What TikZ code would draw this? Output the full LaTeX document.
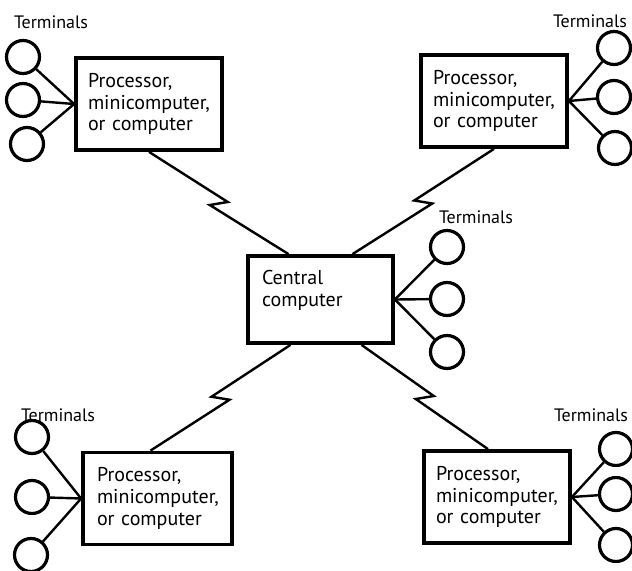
\documentclass[tikz,border=0pt]{standalone}
\usepackage{fontspec}
\setmainfont{PT Sans}
\usetikzlibrary{calc}

\begin{document}
\begin{tikzpicture}[x=0.5pt,y=-0.5pt]
\tikzstyle{unit} =[draw, line width=1.9pt, align=left, text width=61pt, inner xsep=6pt, minimum height=46pt, font=\fontsize{10}{10.9}\selectfont]
\tikzstyle{term} =[circle, draw, line width=1.6pt, inner sep=0pt, minimum size=16.5pt]
\tikzstyle{lbl} =[inner sep=0pt, font=\fontsize{9}{10}\selectfont]
\tikzstyle{wire} =[line width=1.2pt]
\tikzset{jag/.style={to path={-- ($(\tikztostart)!.5!(\tikztotarget)+(#1,-1)$) -- ($(\tikztostart)!.5!(\tikztotarget)+(-#1,2)$) -- (\tikztotarget)}}}

\useasboundingbox (0,0) rectangle (632,571);

\node[unit](p1) at (149,104){Processor,\\minicomputer,\\or computer};
\node[unit](p2) at (494,101){Processor,\\minicomputer,\\or computer};
\node[unit,text width=58.5pt,inner xsep=7pt,minimum height=43.5pt](cen) at (320.5,299.5){Central\\computer\\\mbox{}};
\node[unit,inner xsep=7pt,text width=60.5pt](p3) at (157.5,498.5){Processor,\\minicomputer,\\or computer};
\node[unit](p4) at (497,497){Processor,\\minicomputer,\\or computer};

\node[lbl](l1) at (51,22){Terminals};
\node[lbl](l2) at (590,21){Terminals};
\node[lbl](l3) at (476,217){Terminals};
\node[lbl](l4) at (58,415){Terminals};
\node[lbl](l5) at (591,415){Terminals};

\node[term](t11) at (23,57){};
\node[term](t12) at (23,100){};
\node[term](t13) at (27,144){};
\node[term](t21) at (614,48){};
\node[term](t22) at (614,97){};
\node[term](t23) at (615,148){};
\node[term](t31) at (447,247){};
\node[term](t32) at (447,299){};
\node[term](t33) at (447,352){};
\node[term](t41) at (32,437){};
\node[term](t42) at (32,497){};
\node[term](t43) at (31,555){};
\node[term](t51) at (616,449){};
\node[term](t52) at (616,494){};
\node[term](t53) at (616,545){};

\foreach \t in {t11,t12,t13} \draw[wire] (p1.west) -- (\t);
\foreach \t in {t21,t22,t23} \draw[wire] (p2.east) -- (\t);
\foreach \t in {t31,t32,t33} \draw[wire] (cen.east) -- (\t);
\foreach \t in {t41,t42,t43} \draw[wire] (p3.west) -- (\t);
\foreach \t in {t51,t52,t53} \draw[wire] (p4.east) -- (\t);

\coordinate (c1) at ($(cen.north)+(-32,0)$);
\coordinate (c2) at ($(cen.north)+(32,0)$);
\coordinate (c3) at ($(cen.south)+(-30,0)$);
\coordinate (c4) at ($(cen.south)+(41,0)$);
\coordinate (b3) at ($(p3.north)+(-7,0)$);
\coordinate (b4) at ($(p4.north)+(-9,0)$);

\draw[wire] (p1.south) to[jag=9] (c1);
\draw[wire] (p2.south) to[jag=-9] (c2);
\draw[wire] (c3) to[jag=-9] (b3);
\draw[wire] (c4) to[jag=9] (b4);
\end{tikzpicture}
\end{document}
